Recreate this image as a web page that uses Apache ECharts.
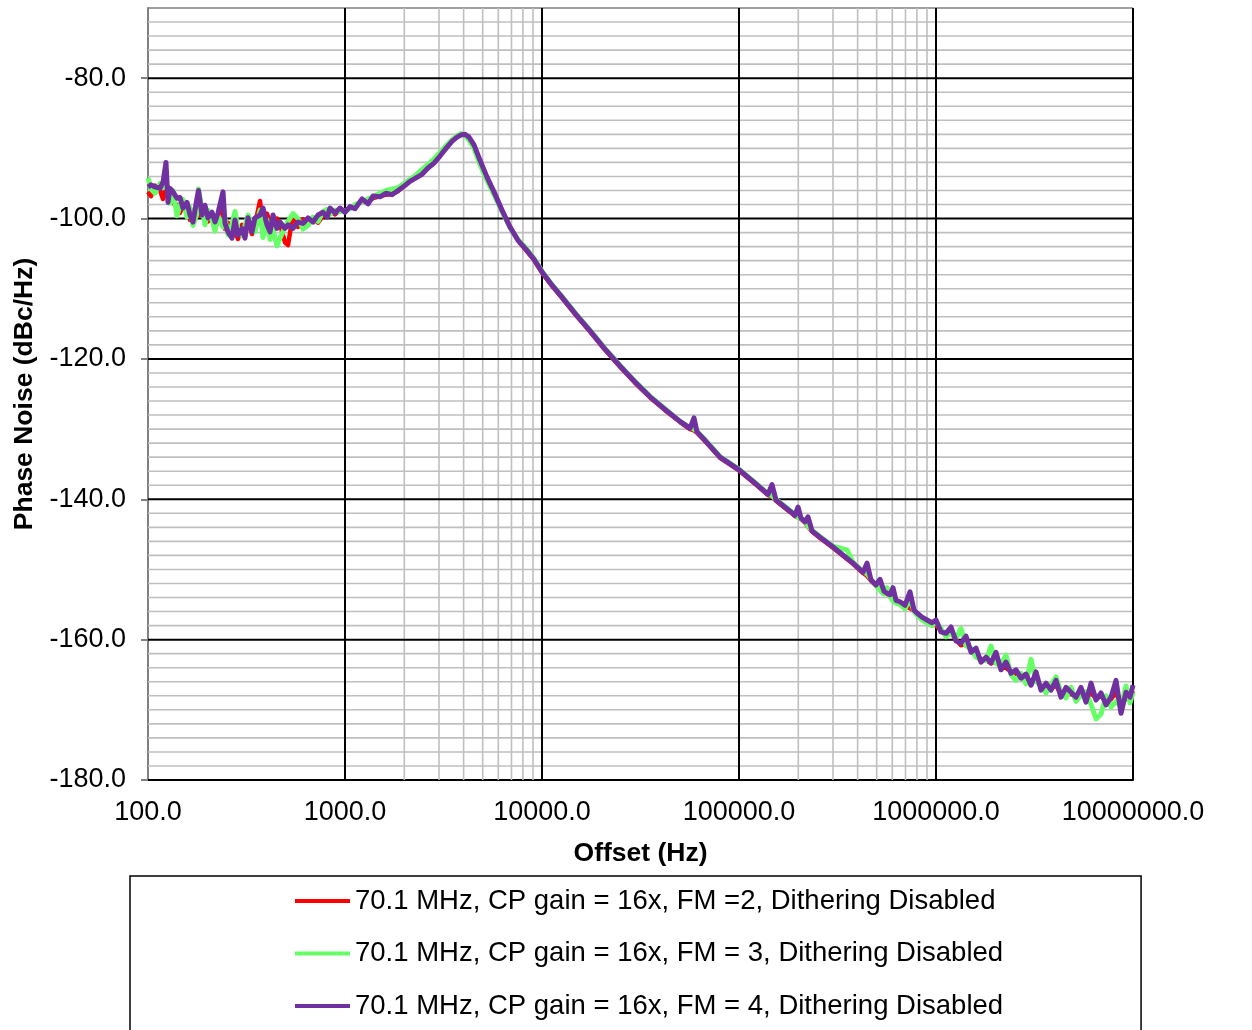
<!DOCTYPE html>
<html>
<head>
<meta charset="utf-8">
<script src="https://cdn.jsdelivr.net/npm/echarts@6/dist/echarts.min.js"></script>
<style>
  html, body { margin: 0; padding: 0; background: #ffffff; }
  #chart { width: 1252px; height: 1030px; }
</style>
</head>
<body>
<div id="chart"></div>
<script>
// Offset frequencies (Hz), one row per group of ten points
const offsetHz = [
  // 100 Hz .. 1 kHz
  100, 103.6, 108.5, 115.1, 119.2, 123.4, 126.3, 129.3, 133.9, 140.3,
  145.3, 150.5, 157.8, 163.4, 169.2, 177.3, 180.4, 188.0, 194.7, 201.6,
  211.3, 218.9, 226.7, 240.3, 246.0, 254.8, 267.0, 276.4, 286.3, 300.1,
  310.8, 321.9, 337.3, 349.3, 370.4, 383.6, 401.9, 416.3, 431.1, 451.7,
  467.9, 496.0, 513.6, 544.5, 577.3, 612.2, 649.1, 688.2, 729.6, 773.6,
  810.6, 839.4, 889.8, 943.3,
  // 1 kHz .. 10 kHz
  1000, 1060, 1124, 1220, 1309, 1388, 1506, 1615, 1732, 1858,
  1993, 2138, 2293, 2460, 2638, 2830, 3035, 3256, 3492, 3703,
  3880, 4066, 4260, 4517, 4845, 5259, 5706, 6266, 6881, 7553,
  8294, 9108,
  // 10 kHz .. 100 kHz
  10000, 11240, 12630, 14710, 17530, 20880, 24880, 29660, 35340, 42110,
  50180, 56400, 59090, 61200, 67200, 80100,
  // 100 kHz .. 1 MHz
  100000, 120600, 140400, 147100, 154100, 181500, 192400, 199300, 206400, 216300,
  224000, 234800, 257700, 300100, 353400, 379000, 426100, 446400, 467900, 496000,
  519700, 544500, 564000, 584200, 604800, 626800, 656700, 696200, 737900, 773600,
  801000, 849100, 900300, 954400,
  // 1 MHz .. 10 MHz
  1000000, 1060000, 1124000, 1192000, 1263000, 1339000, 1420000, 1506000, 1596000, 1692000,
  1794000, 1902000, 2016000, 2138000, 2266000, 2403000, 2548000, 2701000, 2864000, 3036000,
  3219000, 3412000, 3618000, 3836000, 4066000, 4311000, 4571000, 4845000, 5137000, 5445000,
  5773000, 6122000, 6491000, 6882000, 7296000, 7735000, 8200000, 8694000, 9216000, 9656000,
  10000000
];

// Phase noise (dBc/Hz), FM = 2
const noiseFm2 = [
  -96.2, -96.8, -95.3, -96.0, -97.2, -95.5, -96.4, -96.8, -97.8, -98.0,
  -99.2, -98.0, -99.0, -100.2, -99.0, -98.4, -99.6, -98.7, -99.8, -100.4,
  -99.6, -101.2, -100.4, -98.2, -101.5, -100.6, -102.6, -101.8, -102.9, -100.9,
  -101.8, -100.4, -102.2, -100.8, -97.5, -101.6, -99.3, -100.6, -102.1, -100.0,
  -100.8, -103.4, -103.8, -99.4, -101.2, -100.1, -100.9, -99.9, -100.6, -99.6,
  -99.5, -98.9, -99.4, -98.7,
  -99.0, -98.4, -98.3, -97.5, -97.6, -97.1, -96.8, -96.6, -96.5, -96.1,
  -95.3, -94.6, -94.1, -93.6, -92.7, -92.0, -91.0, -89.9, -88.9, -88.3,
  -88.0, -88.0, -88.5, -89.6, -91.8, -94.2, -96.3, -98.9, -101.2, -103.1,
  -104.5, -105.9,
  -107.7, -109.6, -111.3, -113.6, -116.1, -118.7, -121.1, -123.4, -125.5, -127.3,
  -129.0, -130.0, -130.2, -130.5, -131.7, -134.1,
  -135.9, -137.8, -139.4, -139.6, -140.2, -141.8, -142.4, -142.6, -142.8, -143.3,
  -143.9, -144.6, -145.5, -146.9, -148.5, -149.2, -150.5, -150.9, -151.6, -152.3,
  -152.8, -153.2, -153.5, -153.7, -154.0, -154.5, -154.7, -155.2, -155.5, -155.9,
  -156.3, -156.9, -157.3, -157.7,
  -158.0, -158.7, -159.3, -159.0, -160.0, -160.8, -160.6, -161.5, -162.0, -162.8,
  -162.9, -163.4, -163.0, -164.0, -164.0, -164.6, -164.9, -165.2, -165.4, -166.0,
  -165.6, -166.8, -166.6, -167.0, -166.5, -167.8, -167.4, -167.8, -168.0, -167.6,
  -168.4, -167.6, -168.4, -168.0, -168.8, -168.5, -167.5, -169.5, -168.2, -168.3,
  -167.3
];

// Phase noise (dBc/Hz), FM = 3
const noiseFm3 = [
  -94.2, -95.8, -96.4, -95.0, -95.6, -94.3, -96.5, -97.8, -96.0, -99.6,
  -98.2, -97.3, -99.8, -98.4, -101.0, -99.3, -95.8, -98.6, -100.9, -98.8,
  -100.2, -101.8, -99.6, -101.2, -100.0, -102.3, -100.8, -99.0, -101.6, -102.4,
  -101.0, -99.5, -100.8, -101.9, -98.8, -102.7, -100.2, -103.0, -101.5, -103.9,
  -102.8, -101.2, -100.4, -99.3, -100.0, -101.5, -101.0, -99.8, -100.4, -99.0,
  -98.7, -99.4, -98.8, -99.0,
  -98.9, -98.6, -98.0, -97.6, -97.2, -96.9, -96.4, -96.0, -95.8, -95.6,
  -95.0, -94.4, -93.8, -93.0, -92.3, -91.5, -90.6, -89.6, -88.8, -88.2,
  -87.9, -88.2, -88.8, -90.0, -92.3, -94.6, -96.6, -99.0, -101.3, -103.0,
  -104.2, -105.7,
  -107.5, -109.4, -111.1, -113.4, -115.9, -118.5, -120.9, -123.2, -125.3, -127.1,
  -128.9, -129.8, -130.0, -130.3, -131.5, -133.9,
  -135.7, -137.6, -139.2, -139.5, -140.0, -141.6, -142.2, -142.6, -142.7, -143.1,
  -143.8, -144.4, -145.3, -146.7, -147.2, -149.0, -150.3, -150.6, -151.4, -152.3,
  -153.0, -153.5, -152.6, -153.9, -154.5, -154.8, -155.0, -155.6, -154.2, -156.0,
  -156.5, -157.2, -157.6, -158.0,
  -157.5, -158.4, -159.6, -159.0, -159.8, -158.4, -160.9, -161.2, -162.5, -162.8,
  -163.0, -160.9, -163.4, -163.6, -162.2, -165.0, -165.8, -164.8, -166.3, -162.8,
  -166.0, -166.5, -167.6, -166.4, -165.3, -167.6, -168.3, -166.8, -168.8, -167.9,
  -167.4, -169.2, -171.3, -170.6, -168.0, -169.6, -168.8, -169.5, -166.6, -169.0,
  -167.5
];

// Phase noise (dBc/Hz), FM = 4
const noiseFm4 = [
  -95.5, -95.2, -95.5, -95.7, -94.8, -92.0, -97.7, -95.7, -96.2, -97.1,
  -97.0, -98.5, -97.7, -99.5, -100.5, -97.1, -96.0, -99.5, -98.1, -99.9,
  -99.1, -100.5, -99.2, -96.2, -100.7, -101.9, -102.8, -100.2, -102.4, -101.4,
  -102.8, -99.9, -101.9, -99.9, -99.5, -98.5, -100.9, -101.9, -99.5, -101.4,
  -100.5, -101.4, -100.9, -101.4, -100.5, -100.7, -99.9, -100.5, -99.5, -99.1,
  -99.8, -98.5, -99.2, -98.5,
  -99.1, -98.3, -98.6, -97.2, -97.9, -96.8, -96.9, -96.4, -96.6, -96.0,
  -95.4, -94.7, -94.2, -93.7, -92.8, -92.1, -91.1, -90.0, -89.0, -88.4,
  -88.1, -88.0, -88.4, -89.5, -91.7, -94.1, -96.2, -98.8, -101.2, -103.1,
  -104.4, -105.8,
  -107.6, -109.5, -111.2, -113.5, -116.0, -118.6, -121.0, -123.3, -125.4, -127.2,
  -128.9, -129.9, -128.4, -130.4, -131.6, -134.0,
  -135.8, -137.7, -139.3, -137.9, -140.1, -141.7, -142.3, -141.1, -142.7, -143.2,
  -142.5, -144.5, -145.4, -146.8, -148.4, -149.1, -150.4, -149.1, -151.5, -152.2,
  -151.4, -153.1, -153.4, -153.6, -152.6, -154.4, -154.6, -155.1, -153.2, -155.8,
  -156.2, -156.8, -157.2, -157.6,
  -157.2, -158.9, -159.1, -158.2, -160.2, -160.5, -159.5, -161.8, -161.2, -163.2,
  -162.5, -163.3, -161.8, -164.3, -163.2, -164.8, -164.3, -165.5, -164.9, -166.5,
  -164.6, -167.2, -166.2, -167.2, -165.8, -168.2, -166.8, -167.5, -168.2, -166.8,
  -168.9, -166.2, -168.6, -167.6, -169.3, -168.2, -165.8, -170.5, -167.5, -168.2,
  -166.5
];

const seriesNames = [
  '70.1 MHz, CP gain = 16x, FM =2, Dithering Disabled',
  '70.1 MHz, CP gain = 16x, FM = 3, Dithering Disabled',
  '70.1 MHz, CP gain = 16x, FM = 4, Dithering Disabled'
];
const seriesColors = ['#ff0000', '#66ff66', '#7030a0'];

// Axis ticks and grid lines
const yLabelTicks = [-180, -160, -140, -120, -100, -80];
const yMajorGrid = [-160, -140, -120, -100, -80];
const yMinorGrid = [
  -178, -176, -174, -172, -170, -168, -166, -164, -162,
  -158, -156, -154, -152, -150, -148, -146, -144, -142,
  -138, -136, -134, -132, -130, -128, -126, -124, -122,
  -118, -116, -114, -112, -110, -108, -106, -104, -102,
  -98, -96, -94, -92, -90, -88, -86, -84, -82,
  -78, -76, -74, -72, -70
];
const xMajorGrid = [1000, 10000, 100000, 1000000, 10000000];
const xMinorGrid = [2000, 3000, 4000, 5000, 6000, 7000, 8000, 9000,
                    200000, 300000, 400000, 500000, 600000, 700000, 800000, 900000];
const X_MIN = 100, X_MAX = 10000000;
const Y_MIN = -180, Y_MAX = -70;

const FONT = '"Liberation Sans", Arial, Helvetica, sans-serif';
const GRAY = '#bfbfbf';
const BLACK = '#000000';

// Grid line series drawn with the chart's own coordinate mapping
function gridSeries(values, vertical, color, width, z) {
  return {
    type: 'custom',
    silent: true,
    z: z,
    animation: false,
    clip: false,
    data: values.map(v => (vertical ? [v, Y_MIN] : [X_MIN, v])),
    renderItem: function (params, api) {
      const a = vertical ? api.coord([api.value(0), Y_MIN]) : api.coord([X_MIN, api.value(1)]);
      const b = vertical ? api.coord([api.value(0), Y_MAX]) : api.coord([X_MAX, api.value(1)]);
      const top = !vertical && api.value(1) === Y_MAX;
      return {
        type: 'line',
        shape: { x1: a[0], y1: a[1], x2: b[0], y2: b[1] },
        style: { stroke: top ? '#808080' : color, lineWidth: width }
      };
    }
  };
}

const seriesData = [noiseFm2, noiseFm3, noiseFm4].map(vals => offsetHz.map((f, i) => [f, vals[i]]));
const lineWidths = [4.5, 5, 5];

const chart = echarts.init(document.getElementById('chart'), null, { renderer: 'canvas' });
chart.setOption({
  animation: false,
  backgroundColor: '#ffffff',
  textStyle: { fontFamily: FONT, color: '#000' },
  grid: { left: 148, top: 8, right: 119, bottom: 250, containLabel: false, outerBoundsMode: 'none' },
  xAxis: {
    type: 'log',
    logBase: 10,
    min: X_MIN,
    max: X_MAX,
    name: 'Offset (Hz)',
    nameLocation: 'middle',
    nameGap: 60,
    nameTextStyle: { fontFamily: FONT, fontSize: 26.5, fontWeight: 'bold', color: '#000' },
    axisLine: { show: true, lineStyle: { color: BLACK, width: 2 } },
    axisTick: { show: false },
    splitLine: { show: false },
    minorSplitLine: { show: false },
    axisLabel: {
      fontFamily: FONT, fontSize: 27, color: '#000', margin: 19,
      formatter: v => Number(v).toFixed(1)
    }
  },
  yAxis: {
    type: 'value',
    min: Y_MIN,
    max: Y_MAX,
    interval: 20,
    name: 'Phase Noise (dBc/Hz)',
    nameLocation: 'middle',
    nameGap: 110,
    nameTextStyle: { fontFamily: FONT, fontSize: 26.5, fontWeight: 'bold', color: '#000' },
    axisLine: { show: true, lineStyle: { color: '#808080', width: 2 } },
    axisTick: { show: true, length: 7, customValues: yLabelTicks, lineStyle: { color: '#808080', width: 2 } },
    splitLine: { show: false },
    axisLabel: {
      fontFamily: FONT, fontSize: 27, color: '#000', margin: 22,
      customValues: yLabelTicks,
      formatter: v => (v === Y_MAX ? '' : Number(v).toFixed(1))
    }
  },
  legend: {
    data: seriesNames,
    orient: 'vertical',
    left: 130,
    top: 876,
    height: 400,
    padding: [11, 138, 40, 165],
    itemGap: 24.5,
    itemWidth: 55,
    itemHeight: 4,
    icon: 'rect',
    backgroundColor: '#ffffff',
    borderColor: '#000000',
    borderWidth: 1.5,
    selectedMode: false,
    textStyle: { fontFamily: FONT, fontSize: 27.5, color: '#000' }
  },
  series: [
    gridSeries(yMinorGrid, false, GRAY, 1.6, 1),
    gridSeries(xMinorGrid, true, GRAY, 1.6, 1.1),
    gridSeries(yMajorGrid, false, BLACK, 2, 1.2),
    gridSeries(xMajorGrid, true, BLACK, 2, 1.3)
  ].concat(seriesNames.map((name, i) => ({
    name: name,
    type: 'line',
    data: seriesData[i],
    symbol: 'none',
    showSymbol: false,
    z: 3,
    color: seriesColors[i],
    lineStyle: { color: seriesColors[i], width: lineWidths[i], join: 'round' },
    emphasis: { disabled: true }
  })))
});
</script>
</body>
</html>
